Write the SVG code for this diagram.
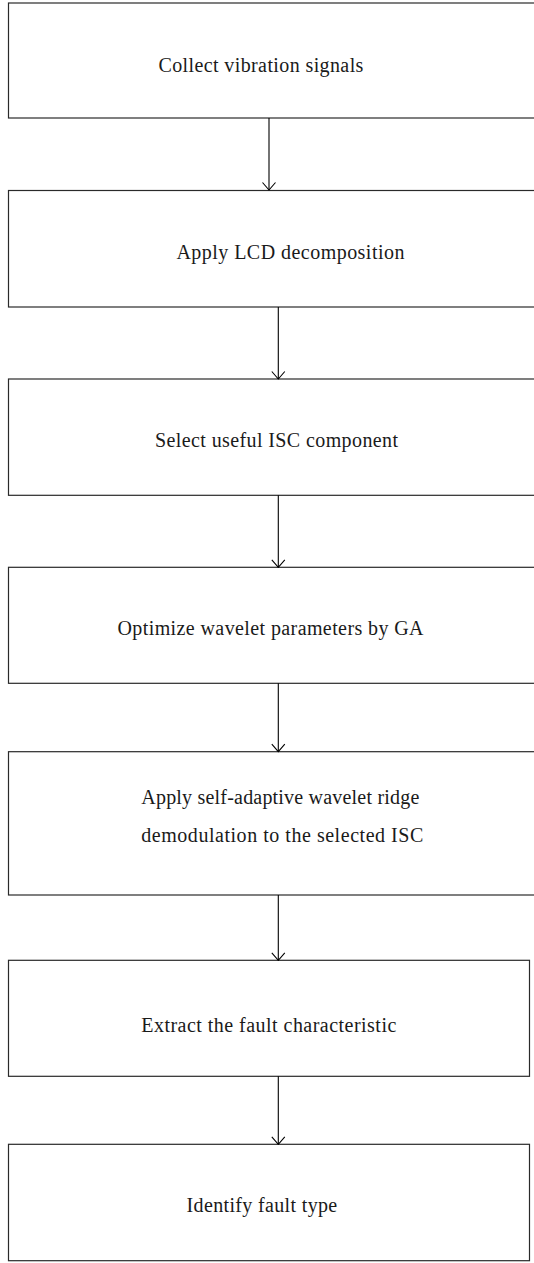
<svg xmlns="http://www.w3.org/2000/svg" width="534" height="1263" viewBox="0 0 534 1263">
  <style>
    .box { fill: #ffffff; stroke: #2a2a2a; stroke-width: 1.2; }
    .lbl { font-family: "Liberation Serif", "Times New Roman", serif; font-size: 20px; fill: #1a1a1a; }
    .conn { stroke: #000000; stroke-width: 1.1; fill: none; }
  </style>
  <defs>
    <marker id="arr" viewBox="-9 -8 10 16" refX="0" refY="0" markerWidth="10" markerHeight="16" markerUnits="userSpaceOnUse" orient="auto">
      <path d="M-7.5,-6.5 L0,0 L-7.5,6.5" fill="none" stroke="#000" stroke-width="1.1"/>
    </marker>
  </defs>
  <rect x="0" y="0" width="534" height="1263" fill="#ffffff"/>

  <g id="n1">
    <rect class="box" x="8.5" y="3" width="540" height="115"/>
    <text class="lbl" x="158.4" y="71.7" textLength="205" lengthAdjust="spacing">Collect vibration signals</text>
  </g>
  <g id="n2">
    <rect class="box" x="8.5" y="190.5" width="540" height="116.5"/>
    <text class="lbl" x="176.4" y="259.3" textLength="228" lengthAdjust="spacing">Apply LCD decomposition</text>
  </g>
  <g id="n3">
    <rect class="box" x="8.5" y="379" width="540" height="116.3"/>
    <text class="lbl" x="155" y="447.3" textLength="243" lengthAdjust="spacing">Select useful ISC component</text>
  </g>
  <g id="n4">
    <rect class="box" x="8.5" y="567.3" width="540" height="116"/>
    <text class="lbl" x="117.5" y="635" textLength="306" lengthAdjust="spacing">Optimize wavelet parameters by GA</text>
  </g>
  <g id="n5">
    <rect class="box" x="8.5" y="751.7" width="540" height="143.3"/>
    <text class="lbl" x="141.3" y="804" textLength="278" lengthAdjust="spacing">Apply self-adaptive wavelet ridge</text>
    <text class="lbl" x="141.3" y="842.3" textLength="282" lengthAdjust="spacing">demodulation to the selected ISC</text>
  </g>
  <g id="n6">
    <rect class="box" x="8.5" y="960.3" width="521" height="116"/>
    <text class="lbl" x="141.3" y="1031.7" textLength="255" lengthAdjust="spacing">Extract the fault characteristic</text>
  </g>
  <g id="n7">
    <rect class="box" x="8.5" y="1144.3" width="521" height="116.4"/>
    <text class="lbl" x="186.6" y="1211.7" textLength="150.6" lengthAdjust="spacing">Identify fault type</text>
  </g>

  <g id="connectors">
    <line class="conn" x1="269" y1="118" x2="269" y2="190" marker-end="url(#arr)"/>
    <line class="conn" x1="278.3" y1="307" x2="278.3" y2="379" marker-end="url(#arr)"/>
    <line class="conn" x1="278.3" y1="495.3" x2="278.3" y2="567.3" marker-end="url(#arr)"/>
    <line class="conn" x1="278.3" y1="683.3" x2="278.3" y2="751.7" marker-end="url(#arr)"/>
    <line class="conn" x1="278.3" y1="895" x2="278.3" y2="960.3" marker-end="url(#arr)"/>
    <line class="conn" x1="278.3" y1="1076.3" x2="278.3" y2="1144.3" marker-end="url(#arr)"/>
  </g>
</svg>
